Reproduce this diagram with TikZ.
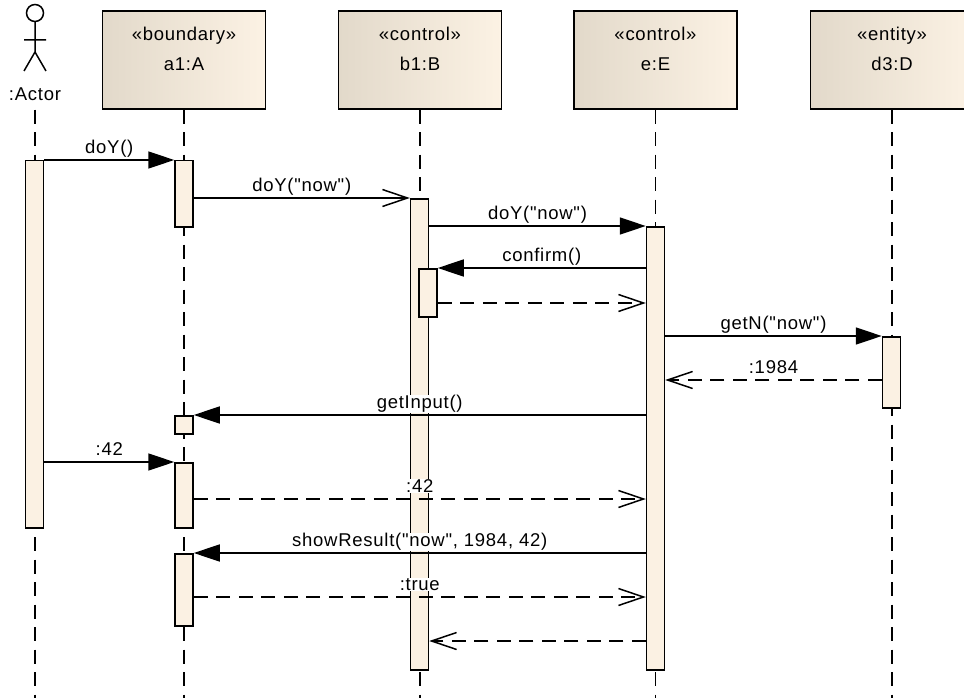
\documentclass[tikz,border=0pt]{standalone}
\usepackage{fontspec}
\setmainfont{Liberation Sans}[LetterSpace=4, Ligatures=TeXOff]
\usetikzlibrary{arrows.meta}

\definecolor{barfill}{RGB}{251,241,227}
\definecolor{headleft}{RGB}{226,217,202}
\definecolor{headright}{RGB}{252,242,228}

\begin{document}
\begin{tikzpicture}[x=1pt, y=-1pt,
    every node/.style={font=\fontsize{18.5}{30}\selectfont},
    head/.style={draw, line width=1.6pt, left color=headleft, right color=headright,
      minimum width=163pt, minimum height=98pt, anchor=north, align=center, text depth=22pt},
    act/.style={draw, line width=1.5pt, fill=barfill, minimum width=18pt, inner sep=0pt, anchor=north},
    life/.style={line width=1.5pt, dash pattern=on 14pt off 8.5pt},
    call/.style={line width=1.5pt, -{Triangle[length=26pt, width=17pt]}},
    async/.style={line width=1.5pt, -{Straight Barb[length=25pt, width=17pt]}},
    reply/.style={async, dash pattern=on 14pt off 8.5pt},
    msg/.style={anchor=base, yshift=6.5pt, fill=white, inner sep=0.5pt}]
  \useasboundingbox (0,0) rectangle (964,698);
  \coordinate (bot) at (0,698);

  % lifeline heads
  \node[anchor=base] (actor) at (35,101) {:Actor};
  \node[head] (hA) at (184,10) {«boundary»\\a1:A};
  \node[head] (hB) at (420,10) {«control»\\b1:B};
  \node[head] (hE) at (655.5,10) {«control»\\e:E};
  \node[head] (hD) at (892,10) {«entity»\\d3:D};
  \draw[line width=1.5pt] (35,13) circle[radius=8.5];
  \draw[line width=1.5pt] (35,21.5) -- (35,52) (24,40) -- (46,40) (24,71) -- (35,52) -- (46,71);

  % lifelines
  \draw[life] (actor |- hA.south) -- (actor |- bot);
  \draw[life] (hA.south) -- (hA.south |- bot);
  \draw[life] (hB.south) -- (hB.south |- bot);
  \draw[life] (hE.south) -- (hE.south |- bot);
  \draw[life] (hD.south) -- (hD.south |- bot);

  % activations
  \node[act, minimum height=367pt] (actbar) at (34.5,160) {};
  \node[act, minimum height=66pt] (abar1) at (184,160) {};
  \node[act, minimum height=18pt] (abar2) at (184,415) {};
  \node[act, minimum height=65pt] (abar3) at (184,462) {};
  \node[act, minimum height=72pt] (abar4) at (184,553) {};
  \node[act, minimum height=471pt] (bbar1) at (419.5,198) {};
  \node[act, minimum height=48pt] (bbar2) at (428,268) {};
  \node[act, minimum height=443pt] (ebar) at (655.5,226) {};
  \node[act, minimum height=71pt] (dbar) at (891.5,336) {};

  % rows of the replies
  \coordinate (r5) at (0,303);
  \coordinate (r7) at (0,380);
  \coordinate (r10) at (0,499);
  \coordinate (r12) at (0,597);
  \coordinate (r13) at (0,641);

  % messages
  \draw[call] (actbar.east |- abar1.north) -- node[msg] {doY()} (abar1.north west);
  \draw[async] (abar1.east |- bbar1.north) -- node[msg] {doY("now")} (bbar1.north west);
  \draw[call] (bbar1.east |- ebar.north) -- node[msg] {doY("now")} (ebar.north west);
  \draw[call] (ebar.west |- bbar2.north) -- node[msg] {confirm()} (bbar2.north east);
  \draw[reply] (bbar2.east |- r5) -- (ebar.west |- r5);
  \draw[call] (ebar.east |- dbar.north) -- node[msg] {getN("now")} (dbar.north west);
  \draw[reply] (dbar.west |- r7) -- node[msg] {:1984} (ebar.east |- r7);
  \draw[call] (ebar.west |- abar2.north) -- node[msg] {getInput()} (abar2.north east);
  \draw[call] (actbar.east |- abar3.north) -- node[msg] {:42} (abar3.north west);
  \draw[reply] (abar3.east |- r10) -- node[msg] {:42} (ebar.west |- r10);
  \draw[call] (ebar.west |- abar4.north) -- node[msg] {showResult("now", 1984, 42)} (abar4.north east);
  \draw[reply] (abar4.east |- r12) -- node[msg] {:true} (ebar.west |- r12);
  \draw[reply] (ebar.west |- r13) -- (bbar1.east |- r13);
\end{tikzpicture}
\end{document}
